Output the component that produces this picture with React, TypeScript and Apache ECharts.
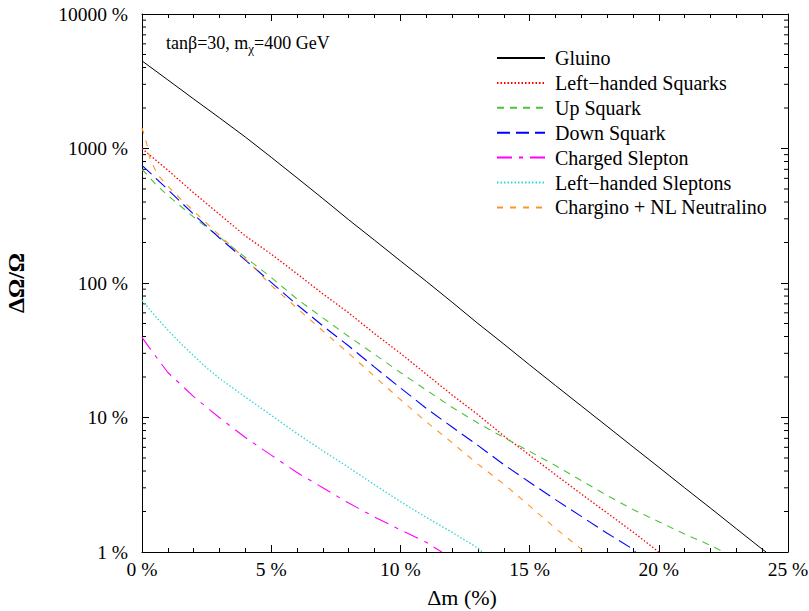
import React, { useEffect, useRef } from "react";
import * as echarts from "echarts";

// ---- data (Δm in %, ΔΩ/Ω in %) ----
const gluinoX = [0, 1, 2, 3, 4, 5, 6, 7, 8, 9, 10, 11, 12, 13, 14, 15, 16, 17, 18, 19, 20, 21, 22, 23, 24, 24.15];
const gluinoY = [4480, 3236, 2333, 1690, 1216, 861, 605, 424, 295, 208, 146, 103, 72, 50, 35.2, 24.6, 17.3, 12.2, 8.6, 6.05, 4.27, 3.0, 2.12, 1.49, 1.05, 1.0];

const lhSquarkX = [0, 0.3, 1, 2, 3, 4, 5, 6, 7, 8, 9, 10, 11, 12, 13, 14, 15, 16, 17, 18, 19, 20];
const lhSquarkY = [1000, 895, 690, 468, 324, 224, 164, 117, 83, 60, 42, 30, 21, 14.7, 10.5, 7.3, 5.25, 3.76, 2.7, 1.95, 1.41, 1.0];

const upSquarkX = [0, 0.5, 1, 2, 3, 4, 5, 6, 7, 8, 9, 10, 11, 12, 13, 14, 15, 16, 17, 18, 19, 20, 21, 22, 22.5];
const upSquarkY = [700, 550, 447, 309, 219, 155, 110, 76, 55, 40, 29.5, 21.6, 16, 11.9, 9.1, 7.1, 5.6, 4.4, 3.4, 2.63, 2.07, 1.68, 1.36, 1.12, 1.0];

const downSquarkX = [0, 1, 2, 3, 4, 5, 6, 7, 8, 9, 10, 11, 12, 13, 14, 15, 16, 17, 18, 19, 19.1];
const downSquarkY = [750, 495, 324, 216, 148, 101, 69, 48, 34, 23.7, 16.6, 11.7, 8.5, 6.2, 4.47, 3.3, 2.45, 1.84, 1.38, 1.05, 1.0];

const chSleptonX = [0, 0.4, 1, 1.5, 2, 3, 4, 5, 6, 7, 8, 9, 10, 11, 11.6];
const chSleptonY = [39.4, 30.8, 21.6, 17.6, 14.3, 9.95, 7.1, 5.25, 3.9, 3.0, 2.31, 1.82, 1.46, 1.18, 1.0];

const lhSleptonX = [0, 0.5, 1, 1.5, 2, 2.5, 3, 4, 5, 6, 7, 8, 9, 10, 11, 12, 13, 13.17];
const lhSleptonY = [74.5, 57, 44.7, 35.5, 28.8, 23.4, 19.5, 14.2, 10.4, 7.6, 5.65, 4.25, 3.16, 2.37, 1.81, 1.4, 1.07, 1.0];

const charginoX = [0, 0.1, 0.2, 0.3, 0.6, 1, 1.5, 2, 3, 4, 5, 6, 7, 8, 9, 10, 11, 12, 13, 14, 15, 16, 17, 17.1];
const charginoY = [1420, 1240, 1050, 850, 640, 525, 420, 343, 226, 151, 96, 65, 44, 30, 20.2, 13.6, 9.3, 6.5, 4.5, 3.2, 2.2, 1.5, 1.05, 1.0];

const seriesNames = [
  "Gluino",
  "Left\u2212handed Squarks",
  "Up Squark",
  "Down Squark",
  "Charged Slepton",
  "Left\u2212handed Sleptons",
  "Chargino + NL Neutralino",
];

const logMinorTicks = [
  2, 3, 4, 5, 6, 7, 8, 9,
  20, 30, 40, 50, 60, 70, 80, 90,
  200, 300, 400, 500, 600, 700, 800, 900,
  2000, 3000, 4000, 5000, 6000, 7000, 8000, 9000,
];

const FONT = "Liberation Serif";

const zip = (xs: number[], ys: number[]) => xs.map((x, i) => [x, ys[i]]);

export default function App() {
  const ref = useRef<HTMLDivElement>(null);

  useEffect(() => {
    if (!ref.current) return;
    const chart = echarts.init(ref.current, null, { renderer: "svg" });

    const mkLine = (name: string, data: number[][], color: string, type: any, width = 1.1) => ({
      type: "line",
      name,
      data,
      symbol: "none",
      showSymbol: false,
      smooth: false,
      xAxisIndex: 0,
      yAxisIndex: 0,
      lineStyle: { color, width, type },
      itemStyle: { color },
      emphasis: { disabled: true },
    });

    const tickStyle = { color: "#000", width: 1 };

    const option: any = {
      animation: false,
      backgroundColor: "#fff",
      grid: { left: 142, right: 21, top: 14, bottom: 59, outerBoundsMode: "none", containLabel: false },
      legend: {
        show: true,
        orient: "vertical",
        left: 491,
        top: 43,
        padding: 5,
        itemWidth: 48,
        itemHeight: 14,
        itemGap: 4.9,
        data: seriesNames,
        itemStyle: { opacity: 0 },
        textStyle: { fontFamily: FONT, fontSize: 20, color: "#000", lineHeight: 20, padding: [0, 0, 0, 5] },
        selectedMode: false,
      },
      xAxis: [
        {
          type: "value",
          min: 0,
          max: 25,
          interval: 5,
          position: "bottom",
          name: "\u0394m (%)",
          nameLocation: "middle",
          nameGap: 34,
          nameTextStyle: { fontFamily: FONT, fontSize: 22, color: "#000", padding: [0, 6, 0, 0] },
          axisLine: { show: true, onZero: false, lineStyle: tickStyle },
          axisTick: { show: true, inside: true, length: 7, lineStyle: tickStyle },
          minorTick: { show: true, splitNumber: 5, length: 4, lineStyle: tickStyle },
          axisLabel: { show: true, margin: 7, fontFamily: FONT, fontSize: 19.5, color: "#000", formatter: (v: number) => `${v} %` },
          splitLine: { show: false },
        },
        {
          type: "value",
          min: 0,
          max: 25,
          interval: 5,
          position: "top",
          axisLine: { show: true, onZero: false, lineStyle: tickStyle },
          axisTick: { show: true, inside: true, length: 7, lineStyle: tickStyle },
          minorTick: { show: true, splitNumber: 5, length: 4, lineStyle: tickStyle },
          axisLabel: { show: false },
          splitLine: { show: false },
        },
      ],
      yAxis: [
        {
          type: "log",
          logBase: 10,
          min: 1,
          max: 10000,
          position: "left",
          name: "\u0394\u03A9/\u03A9",
          nameLocation: "middle",
          nameGap: 114,
          nameTextStyle: { fontFamily: FONT, fontSize: 24, fontWeight: "bold", color: "#000" },
          axisLine: { show: true, onZero: false, lineStyle: tickStyle },
          axisTick: { show: true, inside: true, length: 7, lineStyle: tickStyle },
          axisLabel: { show: true, margin: 14, fontFamily: FONT, fontSize: 19.5, color: "#000", formatter: (v: number) => `${v} %` },
          splitLine: { show: false },
        },
        {
          type: "log",
          logBase: 10,
          min: 1,
          max: 10000,
          position: "right",
          axisLine: { show: true, onZero: false, lineStyle: tickStyle },
          axisTick: { show: true, inside: true, length: 7, lineStyle: tickStyle },
          axisLabel: { show: false },
          splitLine: { show: false },
        },
      ],
      graphic: [
        {
          type: "text",
          left: 166,
          top: 34,
          silent: true,
          style: {
            text: "{a|tan\u03B2=30, m}{s|\u03C7}{a|=400 GeV}",
            rich: {
              a: { fontFamily: FONT, fontSize: 18, color: "#000", lineHeight: 24, verticalAlign: "middle" },
              s: { fontFamily: FONT, fontSize: 13, color: "#000", lineHeight: 13, verticalAlign: "bottom" },
            },
          },
        },
      ],
      series: [
        mkLine(seriesNames[0], zip(gluinoX, gluinoY), "#000000", "solid", 1),
        mkLine(seriesNames[1], zip(lhSquarkX, lhSquarkY), "#ff0000", [1.5, 2], 1.3),
        mkLine(seriesNames[2], zip(upSquarkX, upSquarkY), "#4ec23a", [7, 6], 1.1),
        mkLine(seriesNames[3], zip(downSquarkX, downSquarkY), "#0000ff", [13, 6], 1.1),
        mkLine(seriesNames[4], zip(chSleptonX, chSleptonY), "#ff00ff", [15, 7, 4, 7], 1.1),
        mkLine(seriesNames[5], zip(lhSleptonX, lhSleptonY), "#30d5d5", [1.5, 2], 1.3),
        mkLine(seriesNames[6], zip(charginoX, charginoY), "#ff9326", [6, 7], 1.1),
        {
          type: "custom",
          name: "minor",
          xAxisIndex: 0,
          yAxisIndex: 0,
          silent: true,
          clip: false,
          data: logMinorTicks.map((v) => [0, v]),
          encode: { x: 0, y: 1 },
          renderItem: (params: any, api: any) => {
            const v = api.value(1);
            const l = api.coord([0, v]);
            const r = api.coord([25, v]);
            return {
              type: "group",
              children: [
                { type: "line", shape: { x1: l[0], y1: l[1], x2: l[0] + 4, y2: l[1] }, style: { stroke: "#000", lineWidth: 1 } },
                { type: "line", shape: { x1: r[0] - 4, y1: r[1], x2: r[0], y2: r[1] }, style: { stroke: "#000", lineWidth: 1 } },
              ],
            };
          },
        },
      ],
    };

    chart.setOption(option);
    return () => chart.dispose();
  }, []);

  return (
    <div
      ref={ref}
      style={{ position: "fixed", left: 0, top: 0, width: 809, height: 611, background: "#fff" }}
    />
  );
}
